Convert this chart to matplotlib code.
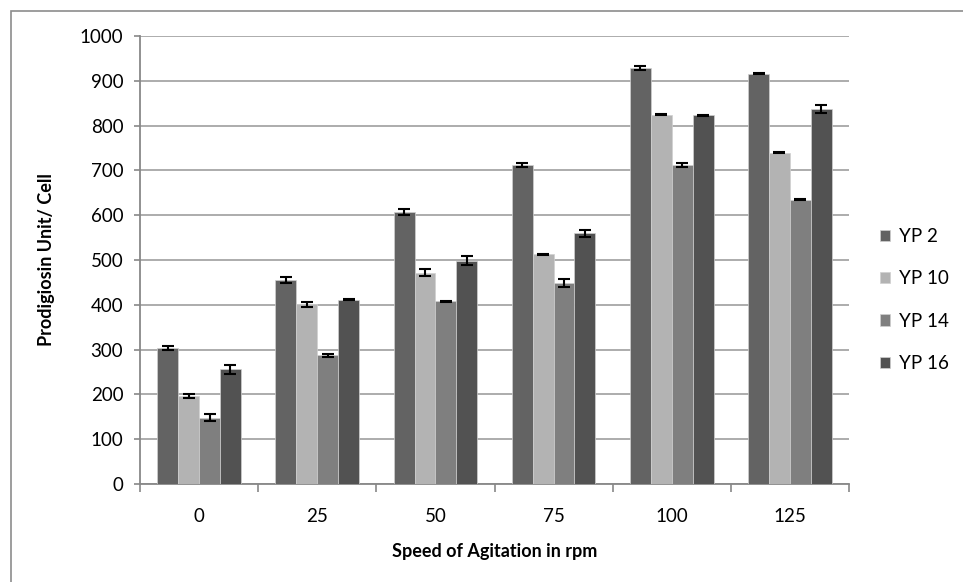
import matplotlib.pyplot as plt
import numpy as np
from matplotlib.patches import Rectangle

plt.rcParams['font.family'] = ['Lato', 'DejaVu Sans']

# agitation speeds (rpm) and prodigiosin per strain
speeds = ['0', '25', '50', '75', '100', '125']
strains = ['YP 2', 'YP 10', 'YP 14', 'YP 16']

yp2 = [304, 455, 607, 712, 929, 916]
yp10 = [197, 401, 472, 513, 824, 739]
yp14 = [148, 287, 408, 449, 712, 635]
yp16 = [256, 411, 498, 560, 823, 837]

yp2_err = [4, 7, 6, 5, 5, 1]
yp10_err = [5, 5, 7, 1, 1, 1]
yp14_err = [8, 4, 1, 9, 5, 1]
yp16_err = [10, 1, 10, 8, 1, 8]

colors = ['#636363', '#b3b3b3', '#7f7f7f', '#525252']

fig = plt.figure(figsize=(9.63, 5.82), dpi=100)
W, H = 963, 582
ax = fig.add_axes([140 / W, (H - 484) / H, (849 - 140) / W, (484 - 36) / H])

# outer chart frame
fig.patches.append(Rectangle((11 / W, -0.1), 1.1, (H - 11) / H + 0.1,
                             transform=fig.transFigure, fill=False,
                             edgecolor='#8c8c8c', linewidth=1.2))

x = np.arange(len(speeds))
bw = 0.177
series = [yp2, yp10, yp14, yp16]
errs = [yp2_err, yp10_err, yp14_err, yp16_err]
for i, (vals, err) in enumerate(zip(series, errs)):
    pos = x + (i - 1.5) * bw
    ax.bar(pos, vals, bw, color=colors[i], edgecolor='#d0d0d0', linewidth=0.5,
           label=strains[i], zorder=3)
    ax.errorbar(pos, vals, yerr=err, fmt='none', ecolor='black', elinewidth=1.5,
                capsize=4, capthick=1.5, zorder=4)

ax.set_xlim(-0.5, len(speeds) - 0.5)
ax.set_ylim(0, 1000)
ax.set_yticks(range(0, 1001, 100))
ax.yaxis.grid(True, color='#a6a6a6', linewidth=1.3, zorder=0)
ax.set_axisbelow(True)

# category boundaries get tick marks, labels sit in the middle
ax.set_xticks(np.arange(-0.5, len(speeds)), minor=False)
ax.set_xticklabels([''] * (len(speeds) + 1))
ax.set_xticks(x, minor=True)
ax.set_xticklabels(speeds, minor=True)
ax.tick_params(axis='x', which='major', length=6, color='#888888', width=1.2)
ax.tick_params(axis='x', which='minor', length=0, labelsize=13.5, pad=17)
ax.tick_params(axis='y', length=4, color='#888888', width=1.2, labelsize=13.5, pad=8)

for s in ['top', 'right']:
    ax.spines[s].set_visible(False)
for s in ['left', 'bottom']:
    ax.spines[s].set_color('#888888')
    ax.spines[s].set_linewidth(1.3)

ax.set_xlabel('Speed of Agitation in rpm', fontsize=13, fontweight='bold', labelpad=13)
ax.set_ylabel('Prodigiosin Unit/ Cell', fontsize=13, fontweight='bold', labelpad=18)

ax.legend(loc='center left', bbox_to_anchor=(880 / W, 1 - 300 / H),
          bbox_transform=fig.transFigure, frameon=False,
          fontsize=13.5, handlelength=0.55, handleheight=0.55, handletextpad=0.45,
          labelspacing=1.35, borderpad=0, borderaxespad=0)

fig.savefig('out.png', dpi=100)
